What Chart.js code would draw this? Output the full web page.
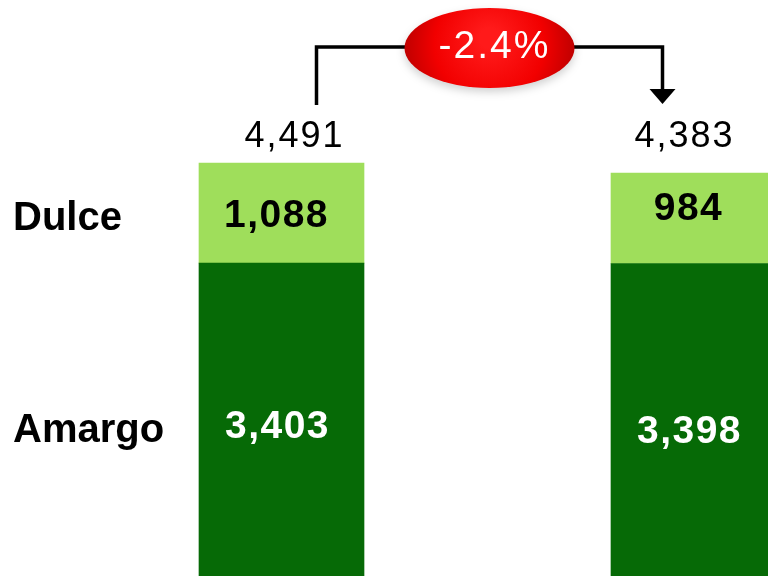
<!DOCTYPE html>
<html>
<head>
<meta charset="utf-8">
<script src="https://cdn.jsdelivr.net/npm/chart.js@4/dist/chart.umd.min.js"></script>
<style>
  html, body { margin: 0; padding: 0; background: #fff; }
  canvas { display: block; }
</style>
</head>
<body>
<canvas id="chart" width="768" height="576"></canvas>
<script>
const periods = ['Anterior', 'Actual'];
const seriesNames = ['Amargo', 'Dulce'];
const amargo = [3403, 3398];
const dulce = [1088, 984];
const totals = [4491, 4383];

const LIGHT_GREEN = '#9fde5b';
const DARK_GREEN = '#066a06';

const fmt = (v) => v.toLocaleString('en-US');

// labels, totals and the change bracket drawn over the bars
const annotations = {
  id: 'annotations',
  afterDatasetsDraw(chart) {
    const ctx = chart.ctx;
    const bottom = chart.getDatasetMeta(0).data;
    const top = chart.getDatasetMeta(1).data;

    ctx.save();
    ctx.textAlign = 'center';
    ctx.textBaseline = 'middle';

    // values inside the segments
    ctx.font = 'bold 39px "Liberation Sans", Arial, sans-serif';
    ctx.letterSpacing = '1.5px';
    const dulceShift = [3, -9];
    top.forEach((el, i) => {
      ctx.fillStyle = '#000';
      ctx.fillText(fmt(dulce[i]), el.x - 5, (el.y + el.base) / 2 + dulceShift[i]);
    });
    const amargoShift = [8, 12];
    bottom.forEach((el, i) => {
      ctx.fillStyle = '#fff';
      ctx.fillText(fmt(amargo[i]), el.x - 4, (el.y + el.base) / 2 + amargoShift[i]);
    });

    // series names on the left, level with the first bar
    ctx.textAlign = 'left';
    ctx.fillStyle = '#000';
    ctx.letterSpacing = '0px';
    ctx.font = 'bold 40px "Liberation Sans", Arial, sans-serif';
    ctx.fillText(seriesNames[1], 13, (top[0].y + top[0].base) / 2 + 6);
    ctx.fillText(seriesNames[0], 13, (bottom[0].y + bottom[0].base) / 2 + 11);

    // totals above the bars
    const baseline = 147;
    ctx.textAlign = 'center';
    ctx.textBaseline = 'alphabetic';
    ctx.font = '36px "Liberation Sans", Arial, sans-serif';
    ctx.letterSpacing = '2px';
    ctx.fillText(fmt(totals[0]), top[0].x + 13, baseline);
    ctx.fillText(fmt(totals[1]), top[1].x - 9, baseline);

    // bracket from the first total to the second
    const x1 = top[0].x + 35;
    const x2 = top[1].x - 31;
    const yLine = 47;
    ctx.strokeStyle = '#000';
    ctx.lineWidth = 3.5;
    ctx.lineJoin = 'miter';
    ctx.beginPath();
    ctx.moveTo(x1, 105);
    ctx.lineTo(x1, yLine);
    ctx.lineTo(x2, yLine);
    ctx.lineTo(x2, 91);
    ctx.stroke();
    ctx.fillStyle = '#000';
    ctx.beginPath();
    ctx.moveTo(x2 - 13, 89);
    ctx.lineTo(x2 + 13, 89);
    ctx.lineTo(x2, 104);
    ctx.closePath();
    ctx.fill();

    // red oval with the percentage change
    const cx = (x1 + x2) / 2;
    const cy = 48;
    const rx = 85, ry = 40;
    ctx.save();
    ctx.shadowColor = 'rgba(0,0,0,0.18)';
    ctx.shadowBlur = 8;
    ctx.shadowOffsetY = 4;
    const g = ctx.createRadialGradient(cx, cy - 10, 10, cx, cy, rx);
    g.addColorStop(0, '#ff1a1a');
    g.addColorStop(0.6, '#f20000');
    g.addColorStop(1, '#c00000');
    ctx.fillStyle = g;
    ctx.beginPath();
    ctx.ellipse(cx, cy, rx, ry, 0, 0, Math.PI * 2);
    ctx.fill();
    ctx.restore();

    const change = (totals[1] - totals[0]) / totals[0] * 100;
    ctx.fillStyle = '#fff';
    ctx.font = '39px "Liberation Sans", Arial, sans-serif';
    ctx.letterSpacing = '2px';
    ctx.textBaseline = 'middle';
    ctx.fillText(change.toFixed(1) + '%', cx + 5, cy - 1);

    ctx.restore();
  }
};

new Chart(document.getElementById('chart'), {
  type: 'bar',
  data: {
    labels: periods,
    datasets: [
      { label: seriesNames[0], data: amargo, backgroundColor: DARK_GREEN },
      { label: seriesNames[1], data: dulce, backgroundColor: LIGHT_GREEN }
    ]
  },
  options: {
    responsive: false,
    animation: false,
    devicePixelRatio: 1,
    layout: { padding: { left: 281.5, right: 74.5, top: 0, bottom: 0 } },
    datasets: {
      bar: { barThickness: 165, borderWidth: 0, clip: false }
    },
    scales: {
      x: { stacked: true, display: false, offset: false },
      y: { stacked: true, display: false, min: 0, max: 6264 }
    },
    plugins: {
      legend: { display: false },
      tooltip: { enabled: false }
    }
  },
  plugins: [annotations]
});
</script>
</body>
</html>
